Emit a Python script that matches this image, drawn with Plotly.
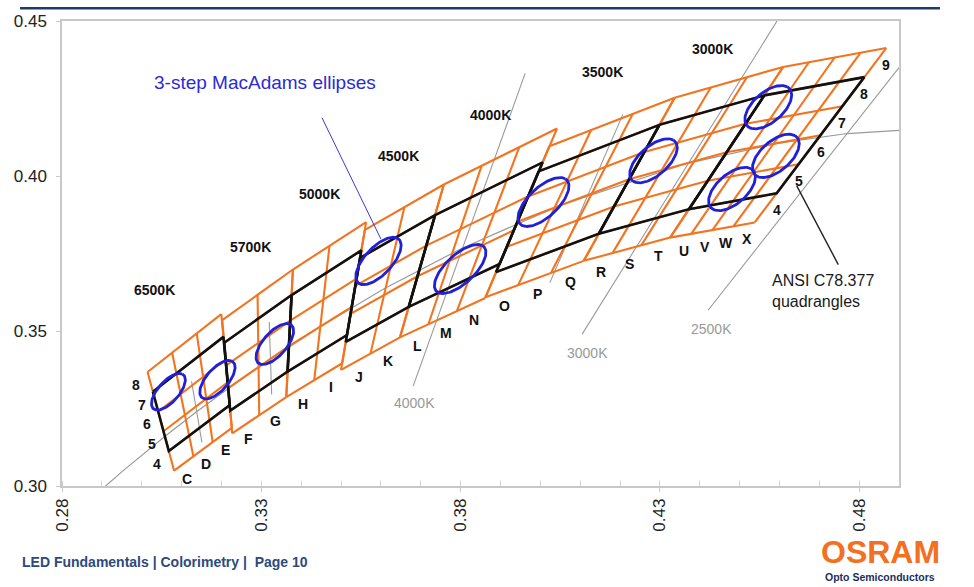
import numpy as np
import plotly.graph_objects as go

# ---------------- data ----------------
# ANSI C78.377 quadrangles, corner chromaticities (CIE 1931 x, y)
cct_names = ["6500K", "5700K", "5000K", "4500K", "4000K", "3500K", "3000K", "2700K"]
tl_x = [0.3028, 0.3207, 0.3376, 0.3548, 0.3736, 0.3996, 0.4299, 0.4562]
tl_y = [0.3304, 0.3462, 0.3616, 0.3736, 0.3874, 0.4015, 0.4165, 0.4260]
tr_x = [0.3205, 0.3376, 0.3551, 0.3736, 0.4006, 0.4299, 0.4562, 0.4813]
tr_y = [0.3481, 0.3616, 0.3760, 0.3874, 0.4044, 0.4165, 0.4260, 0.4319]
br_x = [0.3221, 0.3366, 0.3515, 0.3670, 0.3898, 0.4147, 0.4373, 0.4593]
br_y = [0.3261, 0.3369, 0.3487, 0.3578, 0.3716, 0.3814, 0.3893, 0.3944]
bl_x = [0.3068, 0.3222, 0.3366, 0.3512, 0.3670, 0.3889, 0.4147, 0.4373]
bl_y = [0.3113, 0.3243, 0.3369, 0.3465, 0.3578, 0.3690, 0.3814, 0.3893]

# sub-bins per quadrangle (columns along the locus, rows across it)
bin_cols = [3, 2, 2, 2, 3, 3, 3, 4]
bin_rows = [3, 3, 3, 3, 3, 4, 4, 4]
col_letters = ["C", "D", "E", "F", "G", "H", "I", "J", "K", "L", "M",
               "N", "O", "P", "Q", "R", "S", "T", "U", "V", "W", "X"]
row_numbers = ["4", "5", "6", "7", "8", "9"]

# Planckian locus
planck_T = [10000, 8000, 7000, 6500, 6000, 5500, 5000, 4500, 4000, 3500, 3000, 2700, 2500, 2300, 2000]
planck_x = [0.2807, 0.2952, 0.3064, 0.3135, 0.3221, 0.3324, 0.3451, 0.3608, 0.3805,
            0.4053, 0.4369, 0.4599, 0.4770, 0.4940, 0.5267]
planck_y = [0.2884, 0.3048, 0.3166, 0.3237, 0.3318, 0.3410, 0.3516, 0.3636, 0.3768,
            0.3907, 0.4041, 0.4106, 0.4137, 0.4150, 0.4133]

# isotherm lines (long, labelled)
iso_names = ["4000K", "3000K", "2500K"]
iso_x0 = [0.3681, 0.4105, 0.4421]
iso_y0 = [0.3322, 0.3490, 0.3567]
iso_x1 = [0.3962, 0.4594, 0.4900]
iso_y1 = [0.4331, 0.4500, 0.4350]
# short isotherm segments inside quadrangles
seg_x0 = [0.3125, 0.3320, 0.4207]
seg_y0 = [0.3338, 0.3529, 0.4198]
seg_x1 = [0.3151, 0.3326, 0.4024]
seg_y1 = [0.3141, 0.3295, 0.3656]

# 3-step MacAdam ellipses
ell_x = [0.3067, 0.3190, 0.3334, 0.3594, 0.3799, 0.4008, 0.4284, 0.4572, 0.4591, 0.4481]
ell_y = [0.3304, 0.3343, 0.3458, 0.3726, 0.3700, 0.3916, 0.4049, 0.4222, 0.4065, 0.3958]
ell_a = [0.00669, 0.00700, 0.00746, 0.00876, 0.00939, 0.00927, 0.00834, 0.00810, 0.00810, 0.00810]
ell_b = [0.00285, 0.00300, 0.00320, 0.00375, 0.00402, 0.00414, 0.00408, 0.00420, 0.00420, 0.00420]
ell_theta = [58.6, 59.0, 59.1, 57.3, 53.4, 54.0, 53.2, 53.7, 53.7, 53.7]

# CCT labels above the band
cct_label_x = [0.3033, 0.3272, 0.3445, 0.3643, 0.3874, 0.4157, 0.4433]
cct_label_y = [0.3631, 0.3771, 0.3943, 0.4064, 0.4198, 0.4334, 0.4411]

ORANGE = "#f2741f"
BLACK = "#111111"
BLUE = "#2020d8"
GRAY = "#9a9a9a"
FONT = "Liberation Sans, Arial, sans-serif"


def pt(q, u, v):
    x = (1 - u) * (1 - v) * bl_x[q] + u * (1 - v) * br_x[q] + (1 - u) * v * tl_x[q] + u * v * tr_x[q]
    y = (1 - u) * (1 - v) * bl_y[q] + u * (1 - v) * br_y[q] + (1 - u) * v * tl_y[q] + u * v * tr_y[q]
    return x, y


def seg_trace(xs, ys, color, width):
    return go.Scatter(x=xs, y=ys, mode="lines", connectgaps=False,
                      line=dict(color=color, width=width), hoverinfo="skip")


fig = go.Figure()

# gray Planck locus + isotherms
fig.add_trace(seg_trace(planck_x, planck_y, GRAY, 1.2))
gx, gy = [], []
for i in range(len(iso_names)):
    gx += [iso_x0[i], iso_x1[i], None]
    gy += [iso_y0[i], iso_y1[i], None]
for i in range(len(seg_x0)):
    gx += [seg_x0[i], seg_x1[i], None]
    gy += [seg_y0[i], seg_y1[i], None]
fig.add_trace(seg_trace(gx, gy, GRAY, 1.1))

# orange sub-bin mesh: column lines and row lines
cx, cy, rx, ry = [], [], [], []
for q in range(len(cct_names)):
    nc, nr = bin_cols[q], bin_rows[q]
    v0, v1 = -1.0 / nr, 1.0 + 1.0 / nr
    for i in range(nc + 1):
        u = i / nc
        a = pt(q, u, v0)
        b = pt(q, u, v1)
        cx += [a[0], b[0], None]
        cy += [a[1], b[1], None]
    for j in range(-1, nr + 2):
        v = j / nr
        a = pt(q, 0.0, v)
        b = pt(q, 1.0, v)
        rx += [a[0], b[0], None]
        ry += [a[1], b[1], None]
fig.add_trace(seg_trace(cx, cy, ORANGE, 2.1))
fig.add_trace(seg_trace(rx, ry, ORANGE, 2.1))

# black ANSI quadrangles
kx, ky = [], []
for q in range(len(cct_names)):
    kx += [tl_x[q], tr_x[q], br_x[q], bl_x[q], tl_x[q], None]
    ky += [tl_y[q], tr_y[q], br_y[q], bl_y[q], tl_y[q], None]
fig.add_trace(seg_trace(kx, ky, BLACK, 2.6))

# MacAdam ellipses
t = np.linspace(0, 2 * np.pi, 121)
ex, ey = [], []
for i in range(len(ell_x)):
    th = np.radians(ell_theta[i])
    xs = ell_x[i] + ell_a[i] * np.cos(t) * np.cos(th) - ell_b[i] * np.sin(t) * np.sin(th)
    ys = ell_y[i] + ell_a[i] * np.cos(t) * np.sin(th) + ell_b[i] * np.sin(t) * np.cos(th)
    ex += [float(v) for v in xs] + [None]
    ey += [float(v) for v in ys] + [None]
fig.add_trace(seg_trace(ex, ey, BLUE, 2.8))

# pointer lines
fig.add_trace(seg_trace([0.34523, 0.36003], [0.41879, 0.37962], "#3a3ad0", 1))
fig.add_trace(seg_trace([0.46432, 0.47476], [0.39691, 0.37143], "#222222", 1.4))

ann = []
bold = dict(family=FONT, size=14, color="#111111")

# column letters under the mesh
k = 0
for q in range(len(cct_names)):
    nc, nr = bin_cols[q], bin_rows[q]
    for i in range(nc):
        x, y = pt(q, (i + 0.5) / nc, -1.0 / nr)
        ann.append(dict(x=x, y=y, text="<b>%s</b>" % col_letters[k], showarrow=False,
                        xshift=3, yshift=-15, font=bold))
        k += 1

# row numbers on left (6500K) and right (2700K)
q = 0
nr = bin_rows[q]
for r in range(nr + 2):
    x, y = pt(q, 0, (r - 1 + 0.5) / nr)
    ann.append(dict(x=x, y=y, text="<b>%s</b>" % row_numbers[r], showarrow=False,
                    xshift=-14, yshift=-3, font=bold))
q = len(cct_names) - 1
nr = bin_rows[q]
for r in range(nr + 2):
    x, y = pt(q, 1, (r - 1 + 0.5) / nr)
    ann.append(dict(x=x, y=y, text="<b>%s</b>" % row_numbers[r], showarrow=False,
                    xshift=11, yshift=-2, font=bold))

# CCT labels
for i in range(len(cct_label_x)):
    ann.append(dict(x=cct_label_x[i], y=cct_label_y[i], text="<b>%s</b>" % cct_names[i],
                    showarrow=False, font=bold))

# isotherm labels (gray)
iso_lab_x = [0.36856, 0.41196, 0.44307]
iso_lab_y = [0.32675, 0.34299, 0.35064]
for i in range(len(iso_names)):
    ann.append(dict(x=iso_lab_x[i], y=iso_lab_y[i], text=iso_names[i], showarrow=False,
                    font=dict(family=FONT, size=14, color="#999999")))

ann.append(dict(x=0.50902, y=0.41656, text="Planck", showarrow=False,
                font=dict(family=FONT, size=14, color="#a0a0a0")))
ann.append(dict(x=0.33093, y=0.43025, text="3-step MacAdams ellipses", showarrow=False,
                font=dict(family=FONT, size=19, color="#2b2bd6")))
ann.append(dict(x=0.45762, y=0.36306, text="ANSI C78.377<br>quadrangles", showarrow=False,
                xanchor="left", align="left",
                font=dict(family=FONT, size=16, color="#1a1a1a")))

# footer
ann.append(dict(xref="paper", yref="paper", x=-0.0502, y=-0.1635, xanchor="left", yanchor="middle",
                text="<b>LED Fundamentals | Colorimetry |  Page 10</b>", showarrow=False,
                font=dict(family=FONT, size=14, color="#2c4a7c")))
ann.append(dict(xref="paper", yref="paper", x=0.9773, y=-0.1423, xanchor="center", yanchor="middle",
                text="<b>OSRAM</b>", showarrow=False,
                font=dict(family=FONT, size=32, color="#f36f21")))
ann.append(dict(xref="paper", yref="paper", x=0.9773, y=-0.1953, xanchor="center", yanchor="middle",
                text="<b>Opto Semiconductors</b>", showarrow=False,
                font=dict(family=FONT, size=10.5, color="#1c2f5c")))

axis_common = dict(showgrid=False, zeroline=False, showline=True, linecolor="#c8c8c8", linewidth=1.5,
                   mirror=True, ticks="outside", ticklen=4, tickcolor="#c8c8c8",
                   tickfont=dict(family=FONT, size=17, color="#222222"),
                   tickformat=".2f")

fig.update_layout(
    width=974, height=587,
    margin=dict(l=62, r=75, t=15, b=101),
    plot_bgcolor="white", paper_bgcolor="white",
    showlegend=False,
    annotations=ann,
    xaxis=dict(range=[0.28, 0.49], tick0=0.28, dtick=0.05, tickangle=-90,
               minor=dict(dtick=0.01, ticks="inside", ticklen=5, tickcolor="#d0d0d0"),
               **axis_common),
    yaxis=dict(range=[0.30, 0.45], tick0=0.30, dtick=0.05, ticklabelstandoff=6, **axis_common),
    shapes=[dict(type="line", xref="paper", yref="paper", x0=-0.0502, x1=1.049, y0=1.0276, y1=1.0276,
                 line=dict(color="#1f3a6e", width=2.5))],
)

fig.write_html("out.html")
